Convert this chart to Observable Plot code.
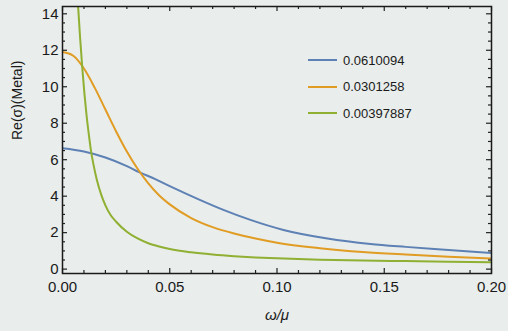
<!DOCTYPE html>
<html>
<head>
<meta charset="utf-8">
<script src="https://cdn.jsdelivr.net/npm/d3@7"></script>
<script src="https://cdn.jsdelivr.net/npm/@observablehq/plot@0.6"></script>
<style>
  html, body { margin: 0; padding: 0; background: #e9edeb; }
  #chart { position: relative; width: 508px; height: 331px; overflow: hidden; }
  #chart svg { display: block; }
  .legend { position: absolute; left: 308px; top: 47px; font-family: "Liberation Sans", Arial, sans-serif; font-size: 13px; color: #1a1a1a; }
  .legend .row { display: flex; align-items: center; height: 26.5px; }
  .legend .sw { width: 29px; height: 2px; margin-right: 6px; }
</style>
</head>
<body>
<div id="chart"></div>
<script>
// ---- data ----
const seriesNames = ["0.0610094", "0.0301258", "0.00397887"];
const seriesColors = ["#5E81B5", "#E19C24", "#8FB032"];

const blueX = [0, 0.01, 0.02, 0.03, 0.036, 0.043, 0.05, 0.064, 0.075, 0.0876, 0.103, 0.1235, 0.1436, 0.16, 0.18, 0.2];
const blueY = [6.63, 6.45, 6.12, 5.65, 5.3, 4.95, 4.55, 3.8, 3.25, 2.7, 2.15, 1.68, 1.38, 1.22, 1.05, 0.88];

const orangeX = [0, 0.005, 0.01, 0.015, 0.02, 0.025, 0.03, 0.035, 0.04, 0.045, 0.05, 0.06, 0.07, 0.08, 0.09, 0.1, 0.12, 0.14, 0.16, 0.18, 0.2];
const orangeY = [11.9, 11.7, 11.0, 9.95, 8.75, 7.55, 6.45, 5.5, 4.7, 4.05, 3.55, 2.8, 2.3, 1.95, 1.68, 1.45, 1.15, 0.94, 0.8, 0.68, 0.58];

const greenX = [0.0065, 0.0073, 0.0082, 0.0092, 0.0102, 0.0112, 0.0122, 0.0132, 0.0145, 0.016, 0.018, 0.02, 0.0225, 0.025, 0.03, 0.035, 0.04, 0.045, 0.05, 0.06, 0.07, 0.08, 0.09, 0.1, 0.12, 0.14, 0.16, 0.18, 0.2];
const greenY = [15.9, 14.35, 12.7, 11.07, 9.65, 8.45, 7.45, 6.55, 5.7, 4.9, 4.1, 3.5, 2.95, 2.6, 2.05, 1.68, 1.42, 1.24, 1.1, 0.92, 0.8, 0.71, 0.64, 0.59, 0.52, 0.47, 0.44, 0.41, 0.38];

const xTicks = [0, 0.05, 0.1, 0.15, 0.2];
const xTickLabels = ["0.00", "0.05", "0.10", "0.15", "0.20"];
const yTicks = [0, 2, 4, 6, 8, 10, 12, 14];
const xLabel = "ω/μ";
const yLabel = "Re(σ)(Metal)";

// ---- build table ----
const seriesX = [blueX, orangeX, greenX];
const seriesY = [blueY, orangeY, greenY];
const rows = [];
seriesNames.forEach((name, i) => {
  seriesX[i].forEach((x, j) => rows.push({ series: name, x, y: seriesY[i][j] }));
});

const xMinor = d3.range(0, 21).map(i => i / 100).filter(v => !xTicks.some(t => Math.abs(t - v) < 1e-9));
const yMinor = d3.range(1, 29).map(i => i / 2).filter(v => !yTicks.includes(v));

const W = 508, H = 331, mL = 62, mR = 17, mT = 6, mB = 58;
const innerW = W - mL - mR, innerH = H - mT - mB;
const maj = 5, mn = 3;
const tickStroke = "#222";

const chart = Plot.plot({
  width: W, height: H,
  marginLeft: mL, marginRight: mR, marginTop: mT, marginBottom: mB,
  style: { background: "transparent", fontFamily: "'Liberation Sans', Arial, sans-serif", fontSize: "15px", color: "#1a1a1a" },
  x: { domain: [0, 0.2] },
  y: { domain: [-0.24, 14.4] },
  color: { domain: seriesNames, range: seriesColors },
  marks: [
    Plot.line(rows, { x: "x", y: "y", z: "series", stroke: "series", strokeWidth: 2, curve: "monotone-x", clip: true }),
    // ticks inward on all four sides
    Plot.tickX(xTicks, { x: d => d, insetTop: innerH - maj, stroke: tickStroke, strokeWidth: 1.2 }),
    Plot.tickX(xMinor, { x: d => d, insetTop: innerH - mn, stroke: tickStroke, strokeWidth: 1.2 }),
    Plot.tickX(xTicks, { x: d => d, insetBottom: innerH - maj, stroke: tickStroke, strokeWidth: 1.2 }),
    Plot.tickX(xMinor, { x: d => d, insetBottom: innerH - mn, stroke: tickStroke, strokeWidth: 1.2 }),
    Plot.tickY(yTicks, { y: d => d, insetRight: innerW - maj, stroke: tickStroke, strokeWidth: 1.2 }),
    Plot.tickY(yMinor, { y: d => d, insetRight: innerW - mn, stroke: tickStroke, strokeWidth: 1.2 }),
    Plot.tickY(yTicks, { y: d => d, insetLeft: innerW - maj, stroke: tickStroke, strokeWidth: 1.2 }),
    Plot.tickY(yMinor, { y: d => d, insetLeft: innerW - mn, stroke: tickStroke, strokeWidth: 1.2 }),
    Plot.frame({ stroke: "#1a1a1a", strokeWidth: 1.5 }),
    Plot.axisX({ ticks: xTicks, tickFormat: (d, i) => xTickLabels[i], tickSize: 0, tickPadding: 8, label: null }),
    Plot.axisY({ ticks: yTicks, tickSize: 0, tickPadding: 4, label: null }),
    Plot.text([yLabel], { frameAnchor: "left", dx: -44.5, rotate: -90, fontSize: 14, text: d => d, fill: "#1a1a1a" }),
    Plot.text([xLabel], { frameAnchor: "bottom", dy: 46, fontSize: 15, fontStyle: "italic", text: d => d, fill: "#1a1a1a" })
  ]
});

const root = document.getElementById("chart");
root.appendChild(chart);

const legend = document.createElement("div");
legend.className = "legend";
seriesNames.forEach((name, i) => {
  const row = document.createElement("div");
  row.className = "row";
  const sw = document.createElement("span");
  sw.className = "sw";
  sw.style.background = seriesColors[i];
  const t = document.createElement("span");
  t.textContent = name;
  row.appendChild(sw);
  row.appendChild(t);
  legend.appendChild(row);
});
root.appendChild(legend);
</script>
</body>
</html>
